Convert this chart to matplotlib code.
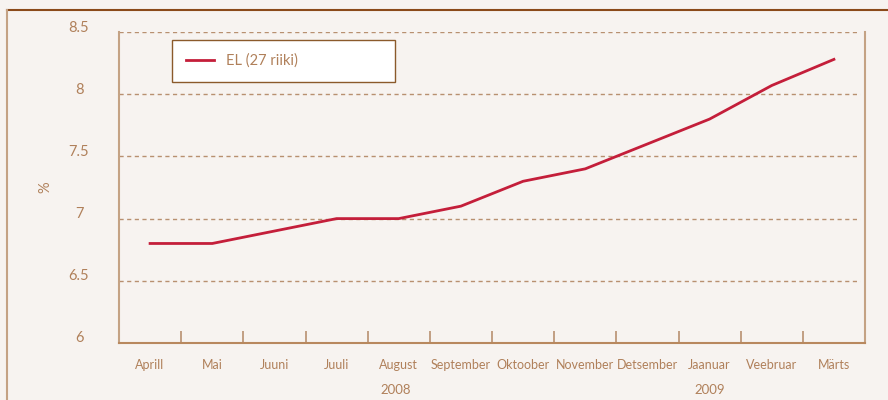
import matplotlib
matplotlib.use("Agg")
import matplotlib.pyplot as plt
import matplotlib.transforms as mtransforms
from matplotlib.lines import Line2D
from matplotlib.patches import Rectangle

months = ["Aprill", "Mai", "Juuni", "Juuli", "August", "September", "Oktoober",
          "November", "Detsember", "Jaanuar", "Veebruar", "Märts"]
values = [6.8, 6.8, 6.9, 7.0, 7.0, 7.1, 7.3, 7.4, 7.6, 7.8, 8.07, 8.28]
years = ["2008", "2009"]
year_pos = [4.45, 9.5]
yticks = [6, 6.5, 7, 7.5, 8, 8.5]
ytick_labels = ["6", "6.5", "7", "7.5", "8", "8.5"]
series_name = "EL (27 riiki)"

bg = "#f7f3f0"
txt = "#b0805a"
grid_c = "#b89070"
line_c = "#c41e3a"

plt.rcParams['font.family'] = ['Lato', 'DejaVu Sans']

fig = plt.figure(figsize=(8.88, 4.0), dpi=100, facecolor=bg)
ax = fig.add_axes([119/888, 1-343/400, (865-119)/888, (343-32)/400])
ax.set_facecolor(bg)

x = [i + 0.5 for i in range(len(months))]
ax.plot(x, values, color=line_c, lw=2.0, solid_joinstyle='round', zorder=3)

ax.set_xlim(0, len(months))
ax.set_ylim(6, 8.5)

# grid
for v in yticks[1:]:
    ax.axhline(v, xmin=0, xmax=0.993, color=grid_c, lw=1.0, ls=(0, (3, 2.5)), zorder=0)

ax.set_yticks(yticks)
ax.set_yticklabels(ytick_labels)
ax.tick_params(axis='y', length=0, pad=28.8, labelsize=10.5, labelcolor=txt)
for lab in ax.get_yticklabels():
    lab.set_horizontalalignment('center')
    lab.set_transform(lab.get_transform() + mtransforms.ScaledTranslation(0, 6/100, fig.dpi_scale_trans))

ax.set_xticks(range(len(months) + 1))
ax.set_xticklabels([])
ax.set_xticks(x, minor=True)
ax.set_xticklabels(months, minor=True, va='baseline')
ax.tick_params(axis='x', which='major', direction='in', length=8.6, width=1.2, color=grid_c)
ax.tick_params(axis='x', which='minor', length=0, pad=18.5, labelsize=9, labelcolor=txt)

ax.spines['top'].set_visible(False)
ax.spines['left'].set_color("#c4a284")
ax.spines['right'].set_color("#c4a284")
ax.spines['bottom'].set_color("#b8885e")
for s in ['left', 'right', 'bottom']:
    ax.spines[s].set_linewidth(1.5)

fig.text(45/888, 1-187/400, "%", rotation=90, ha='center', va='center', color=txt, fontsize=10.5)

ytr = mtransforms.blended_transform_factory(ax.transData, fig.transFigure)
for yr, p in zip(years, year_pos):
    ax.text(p, 1 - 390/400, yr, transform=ytr, ha='center', va='center', color=txt, fontsize=9.5)

# legend box (fixed size as in reference)
box = Rectangle((172/888, 1-82/400), (395-172)/888, (82-40)/400, transform=fig.transFigure,
                facecolor='white', edgecolor='#8b5a2b', lw=1.0, zorder=4)
ax.add_artist(box)
leg = ax.legend([Line2D([0], [0], color=line_c, lw=2)], [series_name],
                loc='center left', bbox_to_anchor=((179-119)/746, (343-61)/311),
                frameon=False, handlelength=1.9, handletextpad=0.8,
                borderpad=0.0, labelcolor=txt, fontsize=10.5)
leg.set_zorder(5)

# outer frame lines
fig.add_artist(Line2D([7/888, 1], [1-10/400, 1-10/400], transform=fig.transFigure, color="#8b4a1a", lw=1.5))
fig.add_artist(Line2D([7/888, 7/888], [0, 1-10/400], transform=fig.transFigure, color="#c4a284", lw=1.5))

fig.savefig("out.png", dpi=100, facecolor=bg)
